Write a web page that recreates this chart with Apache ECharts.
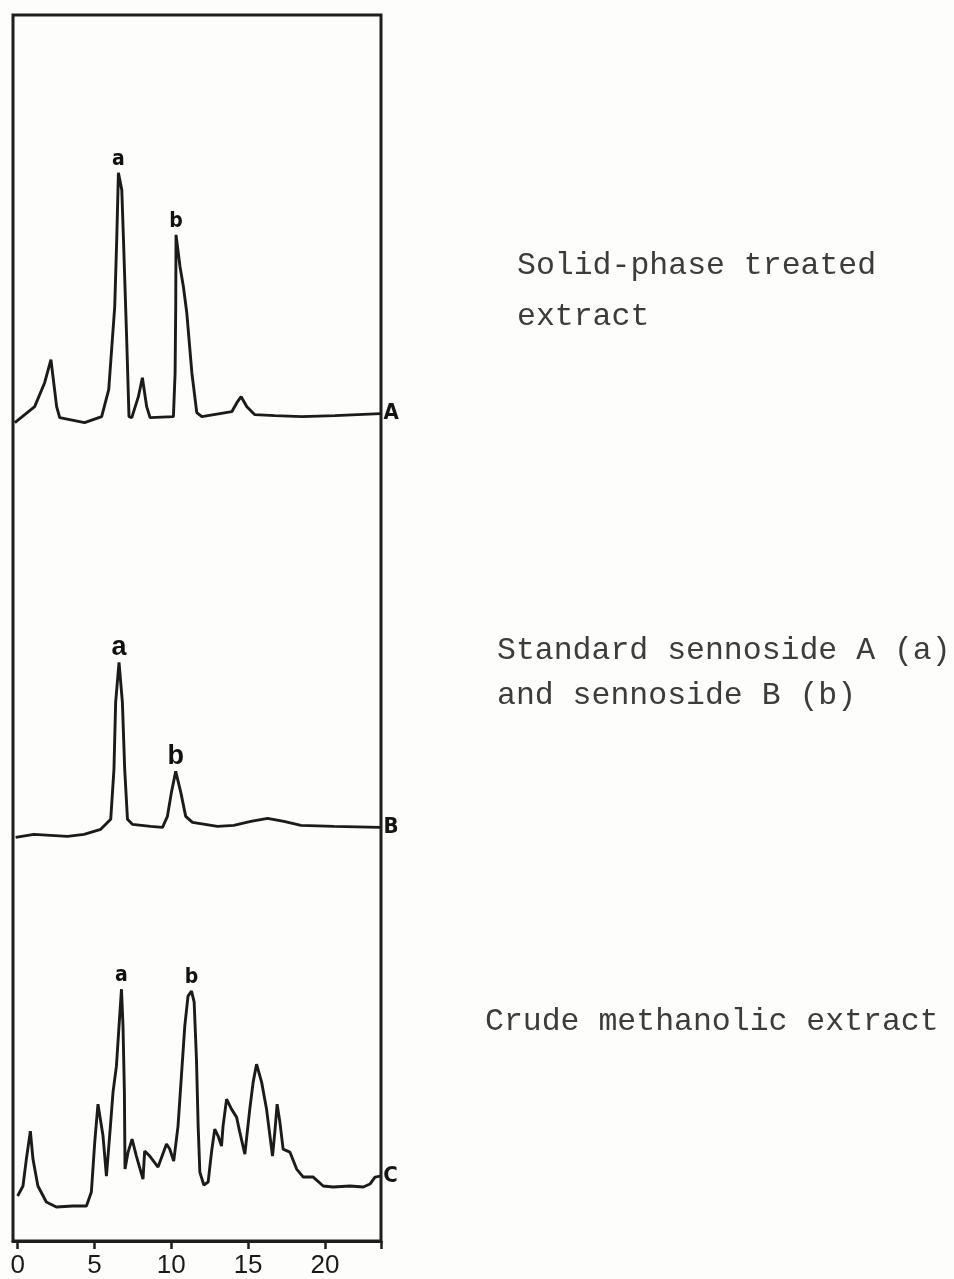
<!DOCTYPE html>
<html>
<head>
<meta charset="utf-8">
<script src="https://cdn.jsdelivr.net/npm/echarts@6/dist/echarts.min.js"></script>
<style>
html,body{margin:0;padding:0;background:#fdfdfc;}
#chart{width:954px;height:1279px;}
</style>
</head>
<body>
<div id="chart"></div>
<script>
// Retention time (min) and recorder deflection (chart units) for each trace
const timeA = [-0.18,1.11,1.76,2.17,2.54,2.74,4.36,5.47,5.93,6.32,6.45,6.56,6.78,6.89,7.10,7.25,7.43,7.86,8.12,8.40,8.62,10.14,10.25,10.29,10.31,10.57,10.79,11.01,11.34,11.66,11.99,13.94,14.27,14.55,14.92,15.44,16.74,18.50,20.65,23.62];
const signalA = [819,835,859,882,835,824,819,825,852,935,1002,1069,1052,1002,902,825,824,845,864,835,824,825,869,935,1007,975,955,929,869,829,825,830,839,845,835,827,826,825,826,828];

const timeB = [-0.13,1.06,3.24,4.32,5.41,6.06,6.27,6.38,6.60,6.82,6.97,7.15,7.47,8.66,9.43,9.75,10.01,10.29,10.62,10.94,11.38,13.01,14.07,15.18,16.27,17.33,18.44,20.59,23.62];
const signalB = [404,407,405,407,412,422,472,539,579,539,472,422,417,415,414,425,449,470,449,425,419,415,416,420,423,420,416,415,414];

const timeC = [0.00,0.35,0.57,0.83,1.00,1.32,1.87,2.52,3.60,4.48,4.80,5.02,5.23,5.56,5.78,6.04,6.21,6.43,6.60,6.76,6.86,6.95,6.99,7.19,7.45,7.73,8.16,8.27,8.60,9.14,9.69,9.90,10.16,10.44,10.66,10.88,11.09,11.32,11.49,11.64,11.75,11.86,12.12,12.40,12.62,12.83,13.05,13.27,13.37,13.60,13.92,14.25,14.46,14.79,15.11,15.33,15.55,15.88,16.20,16.59,16.74,16.89,17.07,17.28,17.72,18.16,18.59,19.24,19.89,20.54,21.63,22.50,22.93,23.26,23.60];
const signalC = [45,55,82,110,82,55,39,34,35,35,49,99,137,105,65,115,149,175,215,252,215,149,72,89,102,85,62,90,85,74,97,92,80,115,165,215,245,250,239,182,115,69,56,59,89,112,105,95,115,142,132,124,109,87,132,159,177,159,132,85,109,137,119,92,89,72,64,64,55,54,55,54,57,64,65];

const traceNames = ['A','B','C'];
const peakNames = ['a','b'];
const peakTimesA = [6.56, 10.31];
const peakTimesB = [6.60, 10.29];
const peakTimesC = [6.76, 11.32];

const xTickValues = [0,5,10,15,20];
const descriptions = [
  ['Solid-phase treated','extract'],
  ['Standard sennoside A (a)','and sennoside B (b)'],
  ['Crude methanolic extract']
];

function peakMarks(times, signal, peakTimes, style){
  return {
    symbol:'circle', symbolSize:0, silent:true, animation:false,
    label:Object.assign({show:true, position:'top', formatter:'{b}'}, style),
    data: peakTimes.map(function(t,k){
      const i = times.indexOf(t);
      return {name:peakNames[k], coord:[t, signal[i]]};
    })
  };
}

const condensed = "'DejaVu Sans Condensed', 'Liberation Sans', sans-serif";
const smallPeak = {fontFamily:condensed, fontWeight:'bold', fontSize:21, color:'#111', distance:3};
const bigPeak = {fontFamily:"'Liberation Sans', sans-serif", fontWeight:'bold', fontSize:27, color:'#111', distance:1};

const lineStyle = {color:'#1b1b1b', width:2.9};
function traceSeries(name, times, signal, peakTimes, style){
  return {
    type:'line', name:name, data:times.map(function(t,i){return [t, signal[i]];}),
    showSymbol:false, symbol:'none', smooth:false,
    lineStyle:lineStyle, animation:false, z:3,
    markPoint:peakMarks(times, signal, peakTimes, style),
    endLabel:{show:true, formatter:name, fontFamily:condensed, fontWeight:'bold', fontSize:22, color:'#151515', distance:3}
  };
}

const chart = echarts.init(document.getElementById('chart'), null, {renderer:'canvas'});
const textStyle = {fontFamily:'Liberation Mono', fontSize:31.5, fill:'#3c3c3c'};
const graphics = [];
const descPos = [[517,[262,313]],[497,[647,692]],[485,[1018]]];
descriptions.forEach(function(lines, gi){
  lines.forEach(function(line, li){
    graphics.push({type:'text', left:descPos[gi][0], top:descPos[gi][1][li]-12,
      style:Object.assign({text:line}, textStyle)});
  });
});

chart.setOption({
  backgroundColor:'#fdfdfc',
  animation:false,
  grid:{left:13, right:573, top:15, bottom:37, show:true, borderColor:'#1e1e1e', borderWidth:3, containLabel:false},
  xAxis:{
    type:'value', min:-0.3, max:23.65,
    axisLine:{show:true, onZero:false, lineStyle:{color:'#1e1e1e', width:3}},
    axisTick:{show:true, inside:false, length:8, lineStyle:{color:'#1e1e1e', width:2.5}, customValues:xTickValues.concat([23.65])},
    axisLabel:{show:true, fontFamily:'Liberation Sans', fontSize:26, color:'#1a1a1a', margin:12, customValues:xTickValues},
    splitLine:{show:false}
  },
  yAxis:{type:'value', min:0, max:1227, show:false, splitLine:{show:false}},
  graphic:graphics,
  series:[
    traceSeries(traceNames[0], timeA, signalA, peakTimesA, smallPeak),
    traceSeries(traceNames[1], timeB, signalB, peakTimesB, bigPeak),
    traceSeries(traceNames[2], timeC, signalC, peakTimesC, smallPeak)
  ]
});
</script>
</body>
</html>
